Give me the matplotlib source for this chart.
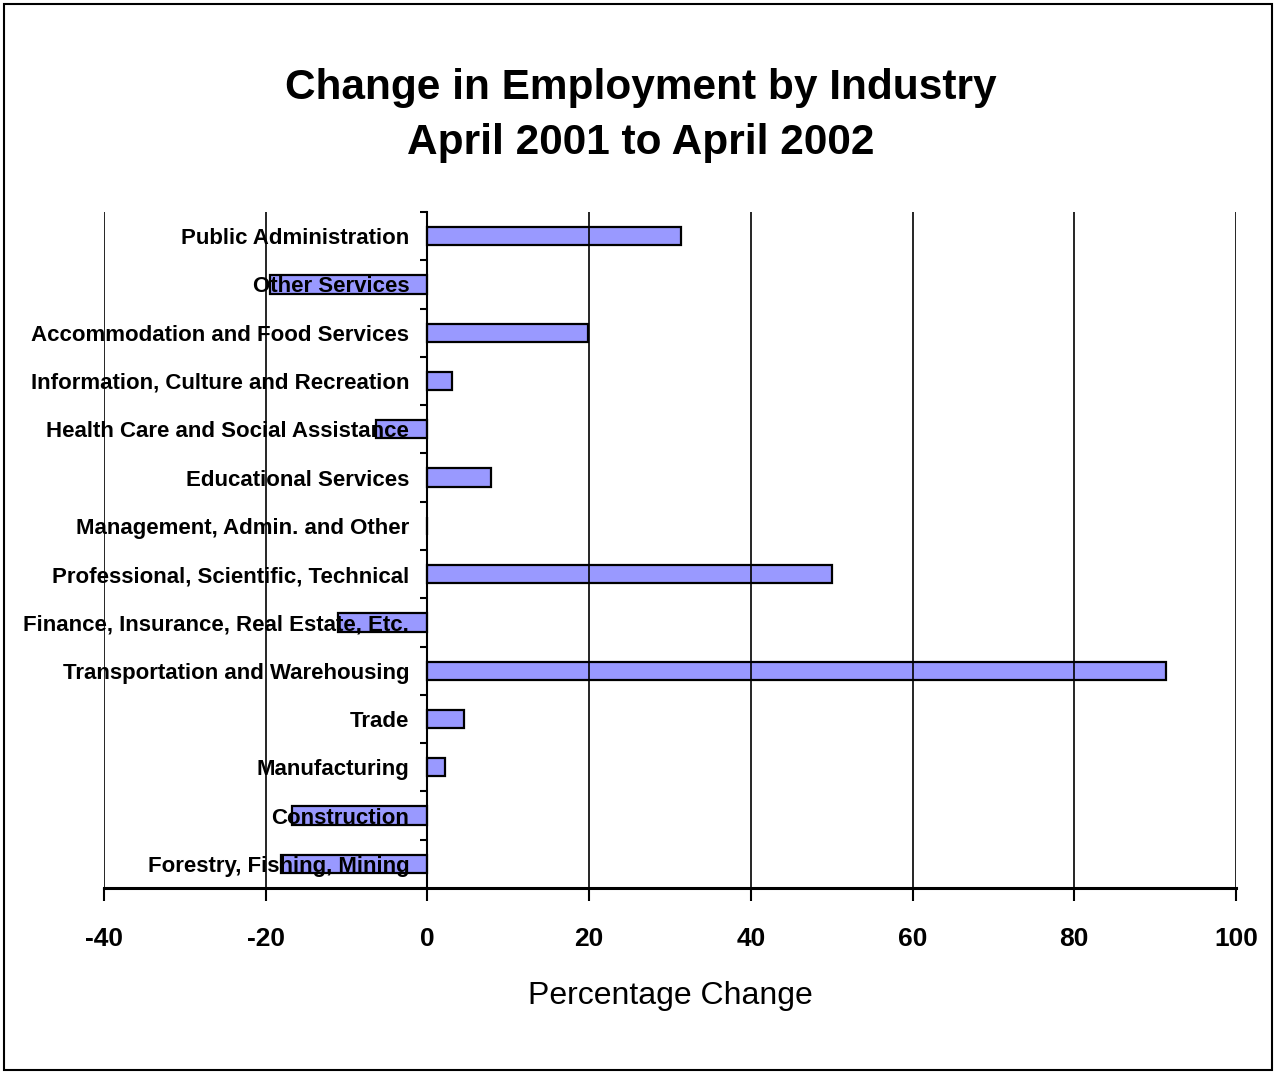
import matplotlib
matplotlib.use('Agg')
import matplotlib.pyplot as plt
import numpy as np

# industries, top to bottom as shown
industries = ['Public Administration', 'Other Services', 'Accommodation and Food Services',
              'Information, Culture and Recreation', 'Health Care and Social Assistance',
              'Educational Services', 'Management, Admin. and Other',
              'Professional, Scientific, Technical', 'Finance, Insurance, Real Estate, Etc.',
              'Transportation and Warehousing', 'Trade', 'Manufacturing', 'Construction',
              'Forestry, Fishing, Mining']
pct_change = [31.4, -19.5, 19.9, 3.0, -6.4, 7.9, 0.0, 50.0, -11.1, 91.3, 4.5, 2.2, -16.8, -18.1]
x_ticks = [-40, -20, 0, 20, 40, 60, 80, 100]

plt.rcParams['font.family'] = ['Liberation Sans', 'DejaVu Sans']

fig = plt.figure(figsize=(12.76, 10.72), dpi=100)
ax = fig.add_axes([104 / 1276, 1 - 888 / 1072, (1236 - 104) / 1276, (888 - 212) / 1072])

# spines first: moving a spine resets the ticks
ax.spines['left'].set_position(('data', 0))
ax.spines['left'].set_linewidth(1.5)
ax.spines['bottom'].set_linewidth(2.2)
ax.spines['top'].set_visible(False)
ax.spines['right'].set_visible(False)

y = np.arange(len(industries))
ax.barh(y, pct_change, height=0.38, color='#9999FF', edgecolor='black', linewidth=1.6, zorder=1)

ax.set_xlim(-40, 100)
ax.set_ylim(len(industries) - 0.5, -0.5)
ax.set_xticks(x_ticks)
ax.set_xticklabels([str(t) for t in x_ticks])
ax.grid(axis='x', color='black', linewidth=1.2)
ax.set_axisbelow(False)

# category labels at centers, tick marks at band boundaries
ax.set_yticks(np.arange(len(industries) + 1) - 0.5, minor=True)
ax.set_yticks(y)
ax.set_yticklabels(industries)
ax.tick_params(axis='y', which='major', length=0, pad=13, labelsize=16)
ax.tick_params(axis='y', which='minor', length=5, width=1.5, direction='out')
ax.tick_params(axis='x', length=9, width=1.5, direction='out', pad=19, labelsize=19)
for lab in ax.get_yticklabels() + ax.get_xticklabels():
    lab.set_fontweight('bold')

ax.set_xlabel('Percentage Change', fontsize=23, labelpad=22)

fig.text(0.502, 1 - 88 / 1072, 'Change in Employment by Industry', ha='center', va='center',
         fontsize=30.5, fontweight='bold')
fig.text(0.502, 1 - 143 / 1072, 'April 2001 to April 2002', ha='center', va='center',
         fontsize=30.5, fontweight='bold')

# border round the whole chart
fig.patches.append(plt.Rectangle((4 / 1276, 2 / 1072), 1 - 8 / 1276, 1 - 6 / 1072,
                                 transform=fig.transFigure, fill=False, edgecolor='black',
                                 linewidth=1.5))

fig.savefig('out.png', dpi=100)
